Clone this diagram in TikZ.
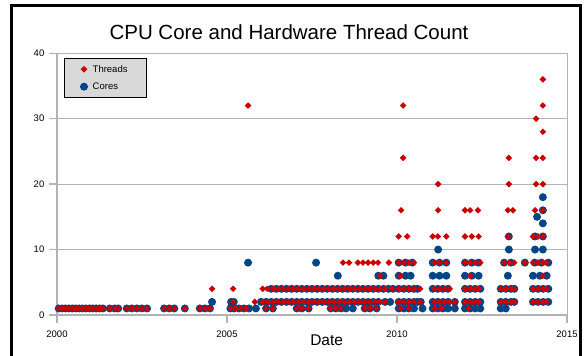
\documentclass[tikz,border=0pt]{standalone}
\usepackage{fontspec}
\setmainfont{Liberation Sans}
\usetikzlibrary{positioning}
\definecolor{coreblue}{RGB}{0,69,134}
\definecolor{threadred}{RGB}{204,0,0}
\definecolor{gridgray}{RGB}{179,179,179}
\definecolor{keygray}{RGB}{217,217,217}
\newcommand{\coredot}[1]{\fill[coreblue] #1 circle (4pt);}
\newcommand{\threaddot}[1]{\fill[threadred] #1 +(0,3.3pt) -- +(3.3pt,0) -- +(0,-3.3pt) -- +(-3.3pt,0) -- cycle;}

\begin{document}
\begin{tikzpicture}[x = 1pt, y = 1pt]
%\draw[very thin, color = gray](0, 0) grid (584, 356);
\tikzstyle{frame} = [draw = gridgray, line width = 0.8pt]
\tikzstyle{tick} = [draw = gridgray, line width = 1.2pt]
\tikzstyle{ticklabel} = [inner sep = 0pt, font = \fontsize{9.5}{11}\selectfont]
\tikzstyle{keylabel} = [inner sep = 0pt, font = \fontsize{9.5}{11}\selectfont]
\useasboundingbox (0, 0) rectangle (584, 356);
\fill[white] (0, 0) rectangle (584, 356);
\draw[line width = 2.5pt] (11.5, -5) -- (11.5, 350.5) -- (580.5, 350.5) -- (580.5, -5);
\node at (289, 324) (title) {\fontsize{20.5}{24}\selectfont CPU Core and Hardware Thread Count};

\begin{scope}[shift = {(57, 41)}, x = 34pt, y = 6.545pt]
\foreach \v in {10, 20, 30} \draw[frame] (0, \v) -- (15, \v);
\draw[frame] (0, 0) rectangle (15, 40);
\draw[tick] (0, 40) -- (0, 0) -- (15, 0);
\foreach \v in {0, 10, ..., 40} {
  \draw[tick] (0, \v) -- ++(-8pt, 0);
  \node[ticklabel, anchor = east] (ylab\v) at ([xshift = -12.5pt] 0, \v) {\v};
}
\foreach \x/\yr in {0/2000, 5/2005, 10/2010, 15/2015} {
  \draw[tick] (\x, 0) -- ++(0, -8pt);
  \node[ticklabel] (xlab\yr) at ([yshift = -19.5pt] \x, 0) {\yr};
}
\node (datelabel) at ([yshift = -25.5pt] 7.93, 0) {\fontsize{15.5}{18}\selectfont Date};

% cores
\foreach \x in {0.05,0.15,...,1.35, 1.55,1.7,1.8, 2.05,2.2,2.35,2.5,2.65, 3.15,3.3,3.45, 3.76, 4.2,4.35,4.5,
  5.1,5.2,5.35,5.5,5.65,5.85, 6.15,6.35, 7.05,7.2,7.4, 8.05,8.2,8.35,8.5,8.7, 9.05,9.2,9.4,
  10.05,10.2,10.35,10.5, 10.75, 11.05,11.2,11.35,11.5,11.7, 12.0,12.15,12.3,12.45, 13.05,13.2}
  {\coredot{(\x, 1)}}
\foreach \x in {4.56, 5.12,5.2, 6.0,6.15,...,9.45, 9.65,9.8, 10.05,10.2,10.35,10.5,10.6, 10.7,
  11.05,11.2,11.35,11.5,11.7, 12.0,12.15,12.3,12.45, 13.05,13.2,13.35,13.45, 14.0,14.15,14.3,14.45}
  {\coredot{(\x, 2)}}
\foreach \x in {6.3,6.45,...,9.45, 9.6,9.75,9.88, 10.05,10.2,10.35,10.5,10.6, 11.05,11.2,11.35,11.5,
  12.0,12.15,12.3,12.45, 13.05,13.2,13.35,13.45, 14.0,14.15,14.3,14.45}
  {\coredot{(\x, 4)}}
\foreach \x in {8.26, 9.45,9.6, 10.05,10.25,10.4, 11.05,11.25,11.45, 12.0,12.2,12.4, 13.26, 14.0,14.2,14.4}
  {\coredot{(\x, 6)}}
\foreach \x in {5.62, 7.62, 10.05,10.25,10.45, 11.05,11.25,11.45, 12.0,12.2,12.4, 13.15,13.35, 13.76, 14.05,14.25,14.45}
  {\coredot{(\x, 8)}}
\foreach \x/\y in {11.21/10, 13.29/10, 14.06/10, 14.29/10, 13.29/12, 14.06/12, 14.29/12,
  14.29/14, 14.12/15, 14.29/16, 14.29/18}
  {\coredot{(\x, \y)}}

% threads
\foreach \x in {0.05,0.15,...,1.35, 1.55,1.7,1.8, 2.05,2.2,2.35,2.5,2.65, 3.15,3.3,3.45, 3.76, 4.2,4.35,4.5,
  5.1,5.25,5.4,5.55, 6.15,6.35, 7.05,7.2,7.4, 8.05,8.2,8.35, 9.05,9.2,9.4, 10.1,10.35, 11.1,11.3, 12.1}
  {\threaddot{(\x, 1)}}
\foreach \x in {5.18, 5.82, 6.05,6.2,...,9.5, 9.65, 10.05,10.2,10.35,10.5, 10.68, 11.1,11.25,11.4,11.55,11.7,
  12.0,12.15,12.3,12.4, 13.05,13.2,13.35,13.45, 14.0,14.15,14.3,14.4}
  {\threaddot{(\x, 2)}}
\foreach \x in {4.56, 5.18, 6.05,6.18, 6.35,6.5,...,9.5, 9.65,9.85, 10.05,10.2,10.35,10.5, 10.68,
  11.1,11.25,11.4,11.55, 12.0,12.15,12.3,12.4, 13.05,13.2,13.35,13.45, 14.0,14.15,14.3,14.4}
  {\threaddot{(\x, 4)}}
\foreach \x in {9.5, 10.1, 12.15, 14.29}
  {\threaddot{(\x, 6)}}
\foreach \x in {8.41,8.59, 8.85,9.0,9.15,9.3,9.44, 9.76, 10.05,10.2,10.35,10.5, 11.1,11.25,11.45,
  12.0,12.15,12.3,12.45, 13.15,13.3,13.45, 13.76, 14.0,14.15,14.3,14.4}
  {\threaddot{(\x, 8)}}
\foreach \x in {10.05,10.3, 11.05,11.2,11.45, 12.0,12.2,12.4, 13.26, 14.0,14.15,14.3}
  {\threaddot{(\x, 12)}}
\foreach \x in {10.12, 11.21, 12.0,12.15,12.38, 13.26,13.41, 14.06,14.29}
  {\threaddot{(\x, 16)}}
\foreach \x/\y in {11.21/20, 13.29/20, 14.09/20, 14.29/20, 10.18/24, 13.29/24, 14.09/24, 14.29/24,
  14.29/28, 14.09/30, 5.62/32, 10.18/32, 14.29/32, 14.29/36}
  {\threaddot{(\x, \y)}}
\end{scope}

% legend
\node[draw, fill = keygray, line width = 0.8pt, minimum width = 82pt, minimum height = 39pt, inner sep = 0pt] (legend) at (105, 278.5) {};
\coordinate (threadkey) at (84, 286.7);
\coordinate (corekey) at (84, 269.3);
\threaddot{(threadkey)}
\coredot{(corekey)}
\node[keylabel, right = 8.5pt of threadkey] (threadtext) {Threads};
\node[keylabel, right = 8.5pt of corekey] (coretext) {Cores};
\end{tikzpicture}
\end{document}
